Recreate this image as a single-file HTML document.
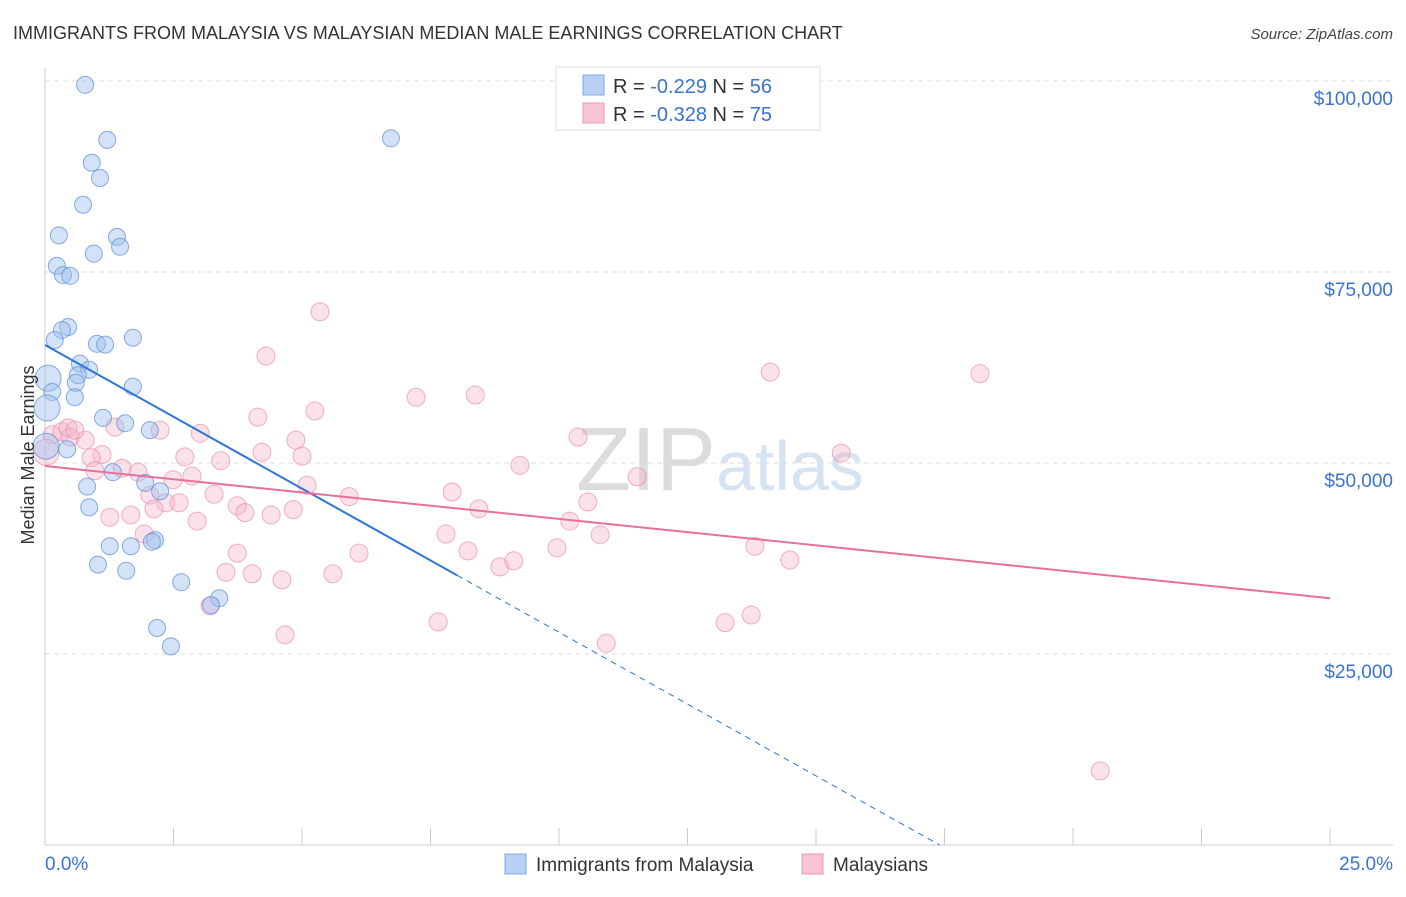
<!DOCTYPE html>
<html><head><meta charset="utf-8"><style>
body{margin:0;background:#fff;font-family:"Liberation Sans",sans-serif;}
svg text{font-family:"Liberation Sans",sans-serif;}
</style></head><body>
<svg id="chart" width="1406" height="892" xmlns="http://www.w3.org/2000/svg">
<text x="13" y="39" font-size="18" fill="#333">IMMIGRANTS FROM MALAYSIA VS MALAYSIAN MEDIAN MALE EARNINGS CORRELATION CHART</text>
<text x="1393" y="39" font-size="15" fill="#444" text-anchor="end" font-style="italic">Source: ZipAtlas.com</text>
<text x="720" y="490" font-size="90" text-anchor="middle" fill="#e6e6e6" font-family="Liberation Serif"><tspan fill="#dcdcdc">ZIP</tspan><tspan fill="#d5e3f3" font-family="Liberation Sans" font-size="70">atlas</tspan></text>
<g id="grid"></g>
<g id="axes"></g>
<g id="pts"></g>
<g id="lines"></g>
<text transform="translate(34,455) rotate(-90)" font-size="18" fill="#333" text-anchor="middle">Median Male Earnings</text>
<g>
<rect x="556" y="67" width="264" height="63" fill="#fff" stroke="#ddd"/>
<rect x="583" y="75" width="21" height="20" fill="#b7d0f3" stroke="#7ea8e4"/>
<rect x="583" y="103" width="21" height="20" fill="#f8c3d3" stroke="#ee9ab3"/>
<text x="613" y="93" font-size="20" fill="#333">R = <tspan fill="#3a73d0">-0.229</tspan>   N = <tspan fill="#3a73d0">56</tspan></text>
<text x="613" y="121" font-size="20" fill="#333">R = <tspan fill="#3a73d0">-0.328</tspan>   N = <tspan fill="#3a73d0">75</tspan></text>
</g>
<g>
<rect x="505" y="854" width="21" height="20" fill="#b7d0f3" stroke="#7ea8e4"/>
<text x="536" y="871" font-size="19" fill="#333">Immigrants from Malaysia</text>
<rect x="802" y="854" width="21" height="20" fill="#f8c3d3" stroke="#ee9ab3"/>
<text x="833" y="871" font-size="19" fill="#333">Malaysians</text>
</g>
</svg>
<script>
const yTicks=[25000,50000,75000,100000];
const yTickLabels=["$25,000","$50,000","$75,000","$100,000"];
const xTickLabels=["0.0%","25.0%"];
const blueX=[0.78,1.21,0.91,1.07,0.74,6.73,0.27,1.40,1.46,0.95,0.23,0.35,0.49,0.45,0.33,1.71,0.19,1.01,1.17,0.68,0.86,0.64,0.60,1.71,0.06,0.14,0.58,0.04,1.13,1.56,2.04,0.43,1.32,0.82,2.24,1.95,0.86,1.26,1.67,2.14,2.08,1.03,1.58,2.65,3.39,3.23,2.18,2.45,0.02];
const blueY=[99500,92300,89300,87300,83800,92500,79800,79600,78300,77400,75800,74600,74500,67800,67400,66400,66100,65600,65500,63000,62200,61500,60500,60000,61100,59300,58600,57200,55900,55200,54300,51800,48800,46900,46300,47400,44200,39100,39100,39900,39700,36700,35900,34400,32300,31400,28400,26000,52200];
const blueBig=[24,27,48];
const pinkX=[5.35,4.30,14.11,18.19,7.22,8.37,5.25,4.14,10.37,15.49,3.02,2.24,1.36,0.14,0.33,0.49,0.78,0.45,4.88,4.22,2.72,3.42,5.00,1.11,0.90,9.24,1.50,1.81,2.86,0.97,2.49,11.52,5.10,7.92,3.29,5.92,2.04,2.35,2.61,2.12,3.74,8.44,4.83,3.89,4.40,1.26,1.67,2.96,10.21,10.56,7.80,10.80,1.93,3.74,6.11,8.23,9.96,13.81,8.85,9.12,14.49,3.52,4.03,4.61,5.60,3.21,7.65,13.23,13.74,4.67,10.92,20.53,0.02,0.58];
const pinkY=[69800,64000,61900,61700,58600,58900,56800,56000,53400,51300,53900,54300,54700,53700,54100,53400,53000,54600,53000,51400,50800,50300,50900,51100,50700,49700,49300,48800,48300,49000,47800,48200,47100,46200,45900,45600,45800,44800,44800,44000,44400,44000,43900,43500,43200,42900,43200,42400,42400,44900,40700,40600,40700,38200,38200,38500,38900,39100,36400,37200,37300,35700,35500,34700,35500,31300,29200,29100,30100,27500,26400,9700,51400,54300];
const pinkBig=[72];
const blueTrend=[65450,-3760]; // intercept, slope per %
const pinkTrend=[49600,-692];
const X=v=>45+v/25*1285;
const Y=v=>845-v/25000*191;
const NS="http://www.w3.org/2000/svg";
function mk(tag,attrs,parent){const e=document.createElementNS(NS,tag);for(const k in attrs)e.setAttribute(k,attrs[k]);document.getElementById(parent).appendChild(e);return e;}
yTicks.forEach((t,i)=>{
 const g=mk('line',{x1:45,x2:1393,y1:Y(t),y2:Y(t),stroke:'#ddd','stroke-dasharray':'5,4'},'grid');
 
 
 const l=mk('text',{x:1393,y:Y(t)+24,'font-size':19,fill:'#3a73d0','text-anchor':'end'},'axes');
 l.textContent=yTickLabels[i];
 
 
});
const ax=mk('line',{x1:45,x2:1393,y1:845,y2:845,stroke:'#ccc'},'axes');


const ay=mk('line',{x1:45,x2:45,y1:68,y2:845,stroke:'#ccc'},'axes');


for(let i=0;i<=10;i++){const t=mk('line',{x1:X(i*2.5),x2:X(i*2.5),y1:828,y2:845,stroke:'#ccc'},'axes');
 
 }
const xl0=mk('text',{x:45,y:870,'font-size':19,fill:'#3a73d0'},'axes');xl0.textContent=xTickLabels[0];


const xl1=mk('text',{x:1393,y:870,'font-size':19,fill:'#3a73d0','text-anchor':'end'},'axes');xl1.textContent=xTickLabels[1];


pinkX.forEach((x,i)=>{const c=mk('circle',{cx:X(x),cy:Y(pinkY[i]),r:pinkBig.includes(i)?13:9,fill:'#f5b3c8','fill-opacity':0.4,stroke:'#eb8fac','stroke-opacity':0.7},'pts');
 
 });
blueX.forEach((x,i)=>{const c=mk('circle',{cx:X(x),cy:Y(blueY[i]),r:blueBig.includes(i)?13:8.5,fill:'#9fbfee','fill-opacity':0.45,stroke:'#5f92dc','stroke-opacity':0.75},'pts');
 
 });
const bEnd=8.02, bZero=-blueTrend[0]/blueTrend[1];
const b1=mk('line',{x1:X(0),y1:Y(blueTrend[0]),x2:X(bEnd),y2:Y(blueTrend[0]+blueTrend[1]*bEnd),stroke:'#2f74d8','stroke-width':2},'lines');


const b2=mk('line',{x1:X(bEnd),y1:Y(blueTrend[0]+blueTrend[1]*bEnd),x2:X(bZero),y2:Y(0),stroke:'#2f74d8','stroke-width':1,'stroke-dasharray':'6,5'},'lines');


const p1=mk('line',{x1:X(0),y1:Y(pinkTrend[0]),x2:X(25),y2:Y(pinkTrend[0]+pinkTrend[1]*25),stroke:'#e8709a','stroke-width':2},'lines');


</script>
</body></html>
